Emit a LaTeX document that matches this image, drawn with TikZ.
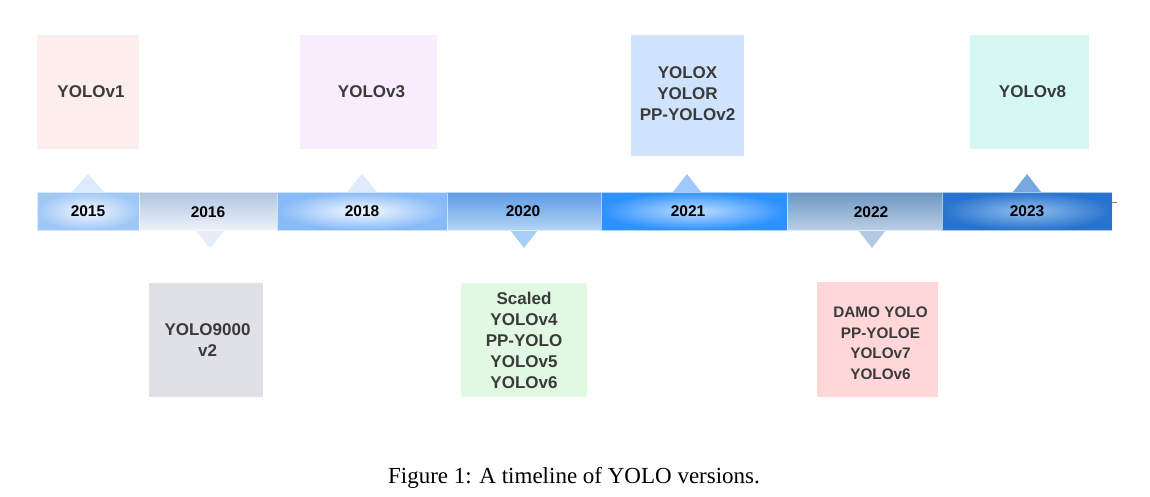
\documentclass[tikz,border=0pt]{standalone}
\usepackage{fontspec}
\setmainfont{Liberation Serif}
\newfontfamily\yolosans{Liberation Sans}
\usetikzlibrary{calc}
\definecolor{txtgray}{HTML}{3A3A3A}
\definecolor{cOne}{HTML}{FDEEEE}
\definecolor{cThree}{HTML}{F9EDFD}
\definecolor{cX}{HTML}{CFE3FD}
\definecolor{cEight}{HTML}{D6F8F3}
\definecolor{cNine}{HTML}{DFE1E6}
\definecolor{cScaled}{HTML}{E1F8E3}
\definecolor{cDamo}{HTML}{FFD7D9}
\tikzset{
  verbox/.style={inner sep=0pt, text=txtgray, align=center,
    font=\yolosans\bfseries\fontsize{17}{21}\selectfont},
  segbox/.style={inner sep=0pt, minimum height=38pt, draw=white, draw opacity=0.6, line width=0.5pt},
  yearlbl/.style={inner sep=0pt, text=black, font=\yolosans\bfseries\fontsize{15.5}{18}\selectfont},
  pointer/.style={draw=none}
}
\begin{document}
\begin{tikzpicture}[x=1pt,y=-1pt]
\useasboundingbox (0,0) rectangle (1150,497);
\fill[white] (0,0) rectangle (1150,497);

% pointers (drawn first, under the bar)
\fill[pointer, fill={rgb,255:red,221;green,234;blue,250}] (72,192) -- (88,174) -- (104,192) -- cycle;
\fill[pointer, fill={rgb,255:red,230;green,237;blue,246}] (195,230) -- (210,248) -- (225,230) -- cycle;
\fill[pointer, fill={rgb,255:red,224;green,236;blue,251}] (347,192) -- (362,174) -- (377,192) -- cycle;
\fill[pointer, fill={rgb,255:red,169;green,205;blue,243}] (510,230) -- (524,248) -- (538,230) -- cycle;
\fill[pointer, fill={rgb,255:red,158;green,201;blue,251}] (673,192) -- (687,174) -- (701,192) -- cycle;
\fill[pointer, fill={rgb,255:red,181;green,202;blue,224}] (858,230) -- (872,248) -- (886,230) -- cycle;
\fill[pointer, fill={rgb,255:red,120;green,168;blue,224}] (1013,192) -- (1027,174) -- (1041,192) -- cycle;

% timeline segments
\node[segbox, minimum width=102pt, shading=radial, inner color={rgb,255:red,242;green,247;blue,254}, outer color={rgb,255:red,160;green,200;blue,247}] (s2015) at (88,211) {};
\node[segbox, minimum width=138pt, top color={rgb,255:red,176;green,196;blue,224}, bottom color={rgb,255:red,236;green,242;blue,249}] (s2016) at (208,211) {};
\node[segbox, minimum width=170pt, shading=radial, inner color={rgb,255:red,246;green,250;blue,255}, outer color={rgb,255:red,135;green,186;blue,248}] (s2018) at (362,211) {};
\node[segbox, minimum width=154pt, top color={rgb,255:red,90;green,154;blue,230}, bottom color={rgb,255:red,180;green,212;blue,245}] (s2020) at (524,211) {};
\node[segbox, minimum width=186pt, shading=radial, inner color={rgb,255:red,190;green,220;blue,255}, outer color={rgb,255:red,45;green,145;blue,255}] (s2021) at (694,211) {};
\node[segbox, minimum width=155pt, top color={rgb,255:red,108;green,150;blue,194}, bottom color={rgb,255:red,186;green,206;blue,229}] (s2022) at (864.5,211) {};
\node[segbox, minimum width=170pt, shading=radial, inner color={rgb,255:red,145;green,190;blue,238}, outer color={rgb,255:red,40;green,115;blue,205}] (s2023) at (1027,211) {};
\coordinate (tickend) at (1117,202);
\draw[gray, line width=0.8pt] (s2023.east |- tickend) -- (tickend);

% year labels
\node[yearlbl] (l2015) at (88,211) {2015};
\node[yearlbl] (l2016) at (208,212) {2016};
\node[yearlbl] (l2018) at (362,211) {2018};
\node[yearlbl] (l2020) at (523,211) {2020};
\node[yearlbl] (l2021) at (688,211) {2021};
\node[yearlbl] (l2022) at (871,212) {2022};
\node[yearlbl] (l2023) at (1027,211) {2023};

% version boxes
\node[verbox, fill=cOne, minimum width=102pt, minimum height=114pt] (bOne) at (88,92) {\hspace*{6pt}YOLOv1};
\node[verbox, fill=cThree, minimum width=137pt, minimum height=114pt] (bThree) at (368.5,92) {\hspace*{6pt}YOLOv3};
\node[verbox, fill=cX, minimum width=113pt, minimum height=121pt] (bX) at (687.5,95.5) {\begin{tabular}{@{}c@{}}YOLOX\\YOLOR\\PP-YOLOv2\end{tabular}};
\node[verbox, fill=cEight, minimum width=119pt, minimum height=114pt] (bEight) at (1029.5,92) {\hspace*{6pt}YOLOv8};
\node[verbox, fill=cNine, minimum width=114pt, minimum height=114pt] (bNine) at (206,340) {\hspace*{3pt}YOLO9000\\\hspace*{3pt}v2};
\node[verbox, fill=cScaled, minimum width=126pt, minimum height=114pt] (bScaled) at (524,340) {Scaled\\YOLOv4\\PP-YOLO\\YOLOv5\\YOLOv6};
\node[verbox, fill=cDamo, minimum width=121pt, minimum height=115pt, font=\yolosans\bfseries\fontsize{15.3}{20.7}\selectfont] (bDamo) at (877.5,339.5) {\hspace*{6pt}\raisebox{-5pt}[\height][\depth]{\begin{tabular}{@{}c@{}}DAMO YOLO\\PP-YOLOE\\YOLOv7\\YOLOv6\end{tabular}}};

% caption
\node[inner sep=0pt, font=\fontsize{23}{26}\selectfont] (caption) at (574,478) {Figure 1: A timeline of YOLO versions.};
\end{tikzpicture}
\end{document}
